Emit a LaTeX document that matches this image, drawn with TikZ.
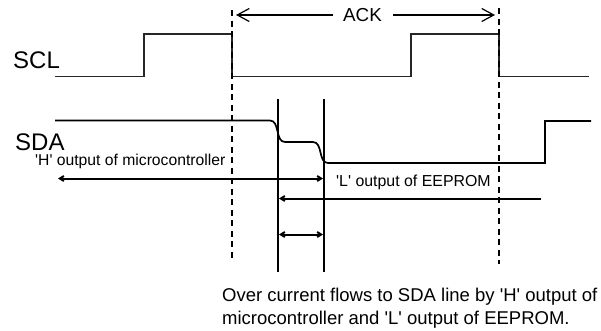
\documentclass[tikz,border=0pt]{standalone}
\usepackage{fontspec}
\setmainfont{Liberation Sans}
\usetikzlibrary{arrows.meta}
\newcommand{\sq}{\textquotesingle}
\tikzset{
    signal/.style={line width=1.1pt, black!85},
    sda/.style={line width=1.7pt},
    marker/.style={line width=2pt},
    timing/.style={line width=1.4pt, dash pattern=on 6pt off 4.5pt},
    span/.style={line width=2pt, {Straight Barb[length=4pt,width=5pt]}-{Straight Barb[length=4pt,width=5pt]}},
    label/.style={inner sep=0pt, anchor=west},
    bigtext/.style={font=\fontsize{24}{27}\selectfont},
    notetext/.style={font=\fontsize{18.5}{21}\selectfont},
}
\begin{document}
\begin{tikzpicture}[x=1pt,y=-1pt]
    \useasboundingbox (0,0) rectangle (601,330);

    % SCL clock
    \node[label, bigtext] (scl) at (13,60) {SCL};
    \draw[signal] (55,76.5) -- (144,76.5) -- (144,34) -- (232,34) -- (232,76.5)
        -- (411,76.5) -- (411,34) -- (499,34) -- (499,76.5) -- (589,76.5);

    % SDA data
    \node[label, bigtext] (sda) at (15,142) {SDA};
    \draw[sda] (55,120.5) -- (270,120.5) .. controls (280,120.5) and (275,142) .. (285,142)
        -- (313,142) .. controls (323,142) and (318,163) .. (328,163)
        -- (545,163) -- (545,121) -- (591,121);

    % ACK window
    \draw[timing] (232,10) -- (232,258);
    \draw[timing] (499,8) -- (499,264);
    \node[font=\fontsize{18.8}{21}\selectfont, inner sep=0pt] (ack) at (362.5,15) {ACK};
    \coordinate (ackl) at (236,15);
    \coordinate (ackr) at (495,15);
    \draw[line width=1.2pt, -{Straight Barb[length=12pt,width=13pt]}] (ack.west) ++(-10,0) -- (ackl);
    \draw[line width=1.2pt, -{Straight Barb[length=12pt,width=13pt]}] (ack.east) ++(11,0) -- (ackr);

    % Overlap markers
    \draw[marker] (278,99) -- (278,272);
    \draw[marker] (323.5,99) -- (323.5,272);

    % Output of microcontroller
    \node[label, font=\fontsize{15.7}{18}\selectfont] (hout) at (35,161) {\sq H\sq{} output of microcontroller};
    \draw[span] (58,178.5) -- (323,178.5);

    % Output of EEPROM
    \node[label, font=\fontsize{15.9}{18}\selectfont] (lout) at (336,182) {\sq L\sq{} output of EEPROM};
    \draw[span, {Straight Barb[length=4pt,width=5pt]}-] (279,198.5) -- (541,198.5);

    % Overlap width
    \draw[span] (279,234.5) -- (323,234.5);

    % Note
    \node[label, notetext] (notea) at (222,297) {Over current flows to SDA line by \sq H\sq{} output of};
    \node[label, notetext] (noteb) at (222,320) {microcontroller and \sq L\sq{} output of EEPROM.};

\end{tikzpicture}
\end{document}
